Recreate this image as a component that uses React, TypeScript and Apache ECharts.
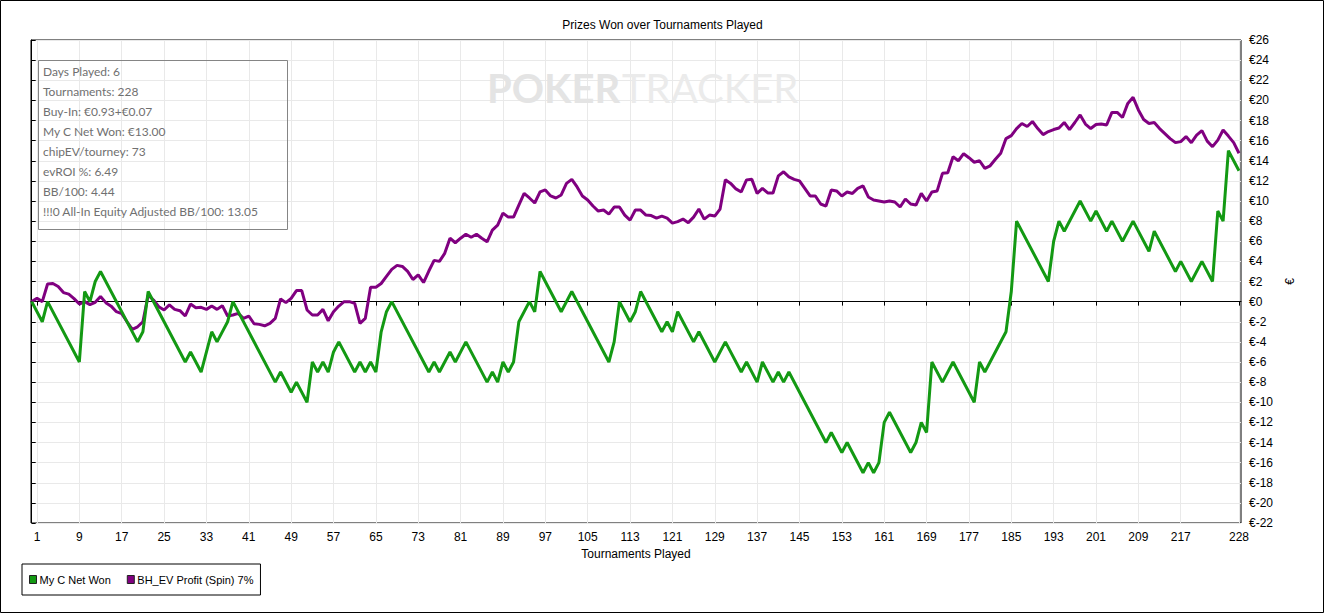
import React, { useEffect, useRef } from "react";
import * as echarts from "echarts";

const chartTitle = "Prizes Won over Tournaments Played";
const xAxisName = "Tournaments Played";
const yAxisName = "€";
const seriesNames = ["My C Net Won", "BH_EV Profit (Spin) 7%"];
const seriesColors = ["#139913", "#800080"];

const xTickValues = [1, 9, 17, 25, 33, 41, 49, 57, 65, 73, 81, 89, 97, 105, 113, 121, 129, 137, 145, 153, 161, 169, 177, 185, 193, 201, 209, 217, 228];

// My C Net Won: [tournament, €] at each change of direction
const netWonPoints: [number, number][] = [
  [0, 0], [2, -2], [3, 0], [9, -6], [10, 1], [11, 0], [12, 2], [13, 3], [20, -4], [21, -3],
  [22, 1], [29, -6], [30, -5], [32, -7], [34, -3], [35, -4], [37, -2], [38, 0], [46, -8], [47, -7],
  [49, -9], [50, -8], [52, -10], [53, -6], [54, -7], [55, -6], [56, -7], [57, -5], [58, -4], [61, -7],
  [62, -6], [63, -7], [64, -6], [65, -7], [66, -3], [67, -1], [68, 0], [75, -7], [76, -6], [77, -7],
  [79, -5], [80, -6], [82, -4], [86, -8], [87, -7], [88, -8], [89, -6], [90, -7], [91, -6], [92, -2],
  [94, 0], [95, -1], [96, 3], [100, -1], [102, 1], [109, -6], [110, -4], [111, 0], [113, -2], [114, -1],
  [115, 1], [119, -3], [120, -2], [121, -3], [122, -1], [125, -4], [126, -3], [129, -6], [131, -4], [134, -7],
  [135, -6], [137, -8], [138, -6], [140, -8], [141, -7], [142, -8], [143, -7], [150, -14], [151, -13], [153, -15],
  [154, -14], [157, -17], [158, -16], [159, -17], [160, -16], [161, -12], [162, -11], [166, -15], [167, -14], [168, -12],
  [169, -13], [170, -6], [172, -8], [174, -6], [178, -10], [179, -6], [180, -7], [184, -3], [185, 1], [186, 8],
  [192, 2], [193, 6], [194, 8], [195, 7], [198, 10], [200, 8], [201, 9], [203, 7], [204, 8], [206, 6],
  [208, 8], [211, 5], [212, 7], [216, 3], [217, 4], [219, 2], [221, 4], [223, 2], [224, 9], [225, 8],
  [226, 15], [228, 13],
];

// BH_EV Profit (Spin) 7%: one value per tournament, 0..228
const evProfitValues: number[] = [
  0, 0.33, 0, 1.75, 1.8, 1.5, 0.9, 0.75, 0.3, -0.24,
  0, -0.3, -0.07, 0.5, -0.1, -0.45, -1.0, -1.2, -2.0, -2.75,
  -2.5, -2.0, 0.65, 0.16, -0.5, -0.83, -0.33, -0.77, -0.9, -1.43,
  -0.24, -0.6, -0.57, -0.77, -0.44, -0.77, -0.4, -1.43, -1.33, -1.17,
  -1.67, -1.43, -2.2, -2.26, -2.4, -2.16, -1.67, 0.26, -0.1, 0.33,
  1.1, 1.1, -0.83, -1.33, -1.33, -0.77, -1.9, -1.0, -0.44, 0,
  0, -0.17, -2.16, -1.67, 1.42, 1.42, 1.8, 2.5, 3.2, 3.6,
  3.5, 3.0, 2.2, 2.65, 1.9, 3.04, 4.1, 4.0, 4.8, 6.3,
  5.85, 6.3, 6.7, 6.4, 6.7, 6.3, 5.95, 7.1, 7.6, 8.8,
  8.4, 8.4, 9.6, 10.75, 10.3, 9.8, 10.9, 11.1, 10.5, 10.3,
  10.6, 11.75, 12.15, 11.4, 10.5, 10.1, 9.5, 9.0, 9.1, 8.7,
  9.4, 9.4, 8.6, 8.1, 9.1, 9.1, 8.6, 8.55, 8.3, 8.5,
  8.3, 7.8, 7.95, 8.2, 7.85, 8.4, 9.2, 8.2, 8.6, 8.5,
  9.2, 12.1, 11.75, 11.2, 10.9, 12.1, 12.15, 10.75, 11.25, 10.8,
  10.8, 12.5, 12.9, 12.4, 12.15, 12.0, 11.25, 10.5, 10.5, 9.7,
  9.5, 11.1, 11.0, 10.5, 10.9, 10.75, 11.25, 11.5, 10.4, 10.1,
  10.0, 9.9, 10.0, 9.9, 9.4, 10.2, 9.7, 9.6, 10.75, 10.0,
  10.9, 11.0, 12.75, 12.8, 14.4, 14.0, 14.7, 14.3, 13.85, 14.0,
  13.25, 13.5, 14.15, 14.75, 16.2, 16.5, 17.2, 17.7, 17.4, 17.9,
  17.2, 16.6, 16.9, 17.1, 17.25, 17.8, 17.1, 17.8, 18.55, 17.65,
  17.2, 17.6, 17.65, 17.55, 18.8, 18.8, 18.3, 19.7, 20.3, 19.05,
  18.1, 17.7, 17.8, 17.2, 16.7, 16.2, 15.8, 15.9, 16.4, 15.8,
  16.55, 17.0, 15.95, 15.4, 16.05, 17.05, 16.45, 15.8, 14.75,
];

const statsLines = [
  "Days Played: 6",
  "Tournaments: 228",
  "Buy-In: €0.93+€0.07",
  "My C Net Won: €13.00",
  "chipEV/tourney: 73",
  "evROI %: 6.49",
  "BB/100: 4.44",
  "!!!0 All-In Equity Adjusted BB/100: 13.05",
];

const watermarkParts = ["POKER", "TRACKER"];

const axisFont = "'Liberation Sans', Arial, sans-serif";
const uiFont = "Lato, Roboto, 'Noto Sans', sans-serif";

export default function App() {
  const ref = useRef<HTMLDivElement>(null);

  useEffect(() => {
    document.body.style.margin = "0";
    const chart = echarts.init(ref.current!, null, { renderer: "svg" });

    const statsGraphics = statsLines.map((line, i) => ({
      type: "text",
      left: 43,
      top: 65 + i * 20,
      z: 5,
      silent: true,
      style: {
        text: line,
        fill: "#707070",
        font: `12px ${uiFont}`,
      },
    }));

    chart.setOption({
      animation: false,
      backgroundColor: "#ffffff",
      title: {
        text: chartTitle,
        left: "center",
        top: 14,
        textStyle: { fontSize: 12, fontWeight: "normal", color: "#000", fontFamily: axisFont },
      },
      grid: {
        left: 31,
        top: 40,
        right: 84,
        bottom: 91,
        show: true,
        borderColor: "#000",
        borderWidth: 1,
        backgroundColor: "#fff",
      },
      legend: {
        left: 22,
        top: 564,
        orient: "horizontal",
        icon: "rect",
        itemWidth: 7,
        itemHeight: 8,
        itemGap: 16,
        padding: [10, 7, 10, 7],
        borderColor: "#000",
        borderWidth: 1,
        itemStyle: { borderColor: "#222", borderWidth: 1 },
        textStyle: { fontSize: 11, color: "#000", fontFamily: axisFont, padding: [0, 0, 0, -2] },
        data: seriesNames,
      },
      xAxis: {
        type: "value",
        min: -0.13,
        max: 228.38,
        name: xAxisName,
        nameLocation: "middle",
        nameGap: 24,
        nameTextStyle: { fontSize: 12, color: "#000", fontFamily: axisFont, verticalAlign: "top" },
        axisLine: { show: true, lineStyle: { color: "#000", width: 1 } },
        axisTick: { show: true, length: 4, lineStyle: { color: "#000" }, customValues: xTickValues },
        axisLabel: { color: "#000", fontSize: 12, fontFamily: axisFont, margin: 8, customValues: xTickValues, showMinLabel: true, showMaxLabel: true },
        splitLine: { show: true, lineStyle: { color: "#e9e9e9", width: 1 } },
      },
      yAxis: {
        type: "value",
        position: "right",
        min: -22,
        max: 26,
        interval: 2,
        name: yAxisName,
        nameLocation: "middle",
        nameRotate: 90,
        nameGap: 40,
        nameTextStyle: { fontSize: 12, color: "#000", fontFamily: axisFont },
        axisLine: { show: true, lineStyle: { color: "#000", width: 1 } },
        axisTick: { show: true, length: 4, lineStyle: { color: "#000" } },
        axisLabel: { color: "#000", fontSize: 12, fontFamily: axisFont, margin: 8, formatter: (v: number) => "€" + v },
        splitLine: { show: true, lineStyle: { color: "#e9e9e9", width: 1 } },
      },
      graphic: [
        {
          type: "rect",
          z: 100,
          silent: true,
          shape: { x: 0.5, y: 0.5, width: 1323, height: 612 },
          style: { fill: "none", stroke: "#000", lineWidth: 1 },
        },
        {
          type: "text",
          left: 487,
          top: 68,
          z: 1,
          silent: true,
          style: { text: watermarkParts[0], fill: "#e4e4e4", font: `bold 40px ${uiFont}` },
        },
        {
          type: "text",
          left: 622,
          top: 68,
          z: 1,
          silent: true,
          style: { text: watermarkParts[1], fill: "#ebebeb", font: `40px ${uiFont}` },
        },
        {
          type: "rect",
          z: 5,
          silent: true,
          shape: { x: 38.5, y: 60.5, width: 249, height: 169 },
          style: { fill: "none", stroke: "#858585", lineWidth: 1 },
        },
        ...statsGraphics,
      ],
      series: [
        {
          name: seriesNames[0],
          type: "line",
          data: netWonPoints,
          showSymbol: false,
          z: 4,
          lineStyle: { color: seriesColors[0], width: 3 },
          itemStyle: { color: seriesColors[0] },
          markLine: {
            silent: true,
            symbol: "none",
            label: { show: false },
            lineStyle: { color: "#000", width: 1, type: "solid" },
            data: [{ yAxis: 0 }],
            z: 3,
          },
        },
        {
          name: seriesNames[1],
          type: "line",
          data: evProfitValues.map((v, i) => [i, v]),
          showSymbol: false,
          z: 3,
          lineStyle: { color: seriesColors[1], width: 3 },
          itemStyle: { color: seriesColors[1] },
        },
      ],
    });

    return () => chart.dispose();
  }, []);

  return <div ref={ref} style={{ width: 1325, height: 614 }} />;
}
